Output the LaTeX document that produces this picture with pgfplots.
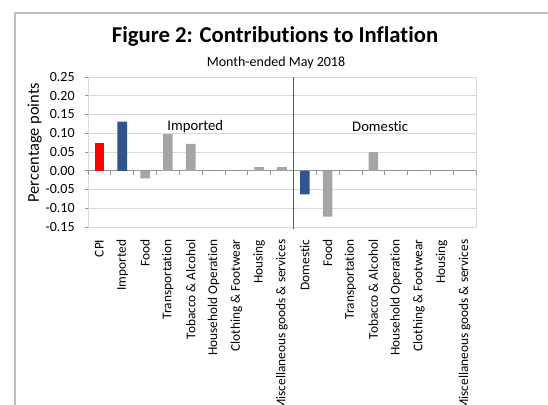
\documentclass[border=0pt]{standalone}
\usepackage{pgfplots}
\pgfplotsset{compat=1.18}
\usepackage{fontspec}
\setmainfont{Carlito}[Ligatures={NoCommon,NoContextual}]
\definecolor{cpired}{RGB}{255,0,0}
\definecolor{impblue}{RGB}{47,85,140}
\definecolor{bargray}{RGB}{165,165,165}
\definecolor{gridgray}{RGB}{217,217,217}
\definecolor{framegray}{RGB}{191,191,191}
\definecolor{zerogray}{RGB}{150,150,150}
\begin{document}
\begin{tikzpicture}
\useasboundingbox (0pt,0pt) rectangle (411pt,303pt);
\fill[white] (0pt,0pt) rectangle (411pt,303pt);
\draw[framegray, line width=1.5pt] (11.25pt,-2pt) -- (11.25pt,293.25pt) -- (413pt,293.25pt);
\node[font=\bfseries\fontsize{17}{20}\selectfont] at (206.25pt,275.5pt) {Figure 2: Contributions to Inflation};
\node[font=\fontsize{10.5}{12}\selectfont] at (207pt,255.75pt) {Month-ended May 2018};
\node[rotate=90, font=\fontsize{12.3}{14}\selectfont] at (26pt,196pt) {Percentage points};
\begin{axis}[
  at={(66pt,245.25pt)}, anchor=north west,
  scale only axis, width=291pt, height=112.5pt,
  xmin=-0.5, xmax=16.5, ymin=-0.15, ymax=0.25,
  ytick={-0.15,-0.10,-0.05,0,0.05,0.10,0.15,0.20,0.25},
  ymajorgrids, grid style={gridgray, line width=0.75pt},
  axis line style={gridgray, line width=0.75pt},
  xtick={0,...,16},
  xticklabels={CPI,Imported,Food,Transportation,Tobacco \& Alcohol,Household Operation,Clothing \& Footwear,Housing,Miscellaneous goods \& services,Domestic,Food,Transportation,Tobacco \& Alcohol,Household Operation,Clothing \& Footwear,Housing,Miscellaneous goods \& services},
  xticklabel style={rotate=90, anchor=east, font=\fontsize{10}{12}\selectfont},
  xticklabel shift=3.5pt,
  yticklabel style={font=\fontsize{10.5}{12}\selectfont, /pgf/number format/.cd, fixed, fixed zerofill, precision=2, assume math mode=true},
  yticklabel shift=4pt,
  x tick style={draw=none},
  y tick style={zerogray, line width=0.5pt},
  tickpos=left, tick align=outside, major tick length=2.5pt,
  bar width=0.42,
  clip=false,
]
\draw[zerogray, line width=0.75pt] (axis cs:-0.5,0) -- (axis cs:16.5,0);
\pgfplotsinvokeforeach{0,...,16}{
  \draw[zerogray, line width=0.5pt] (axis cs:#1-0.5,0) -- ++(0pt,-3pt);
}
\draw[zerogray, line width=0.5pt] (axis cs:16.5,0) -- ++(0pt,-3pt);
\addplot[ybar, bar shift=0pt, fill=cpired, draw=none] coordinates {(0,0.075)};
\addplot[ybar, bar shift=0pt, fill=impblue, draw=none] coordinates {(1,0.131) (9,-0.063)};
\addplot[ybar, bar shift=0pt, fill=bargray, draw=none] coordinates {(2,-0.020) (3,0.098) (4,0.072) (5,0) (6,0) (7,0.010) (8,0.010) (10,-0.122) (11,0) (12,0.050) (13,0) (14,0) (15,0) (16,0)};
\draw[black!65, line width=0.75pt] (axis cs:8.5,0.25) -- (axis cs:8.5,-0.155);
\node[font=\fontsize{11}{13}\selectfont] at (axis cs:4.2,0.118) {Imported};
\node[font=\fontsize{11}{13}\selectfont] at (axis cs:12.3,0.118) {Domestic};
\end{axis}
\end{tikzpicture}
\end{document}
